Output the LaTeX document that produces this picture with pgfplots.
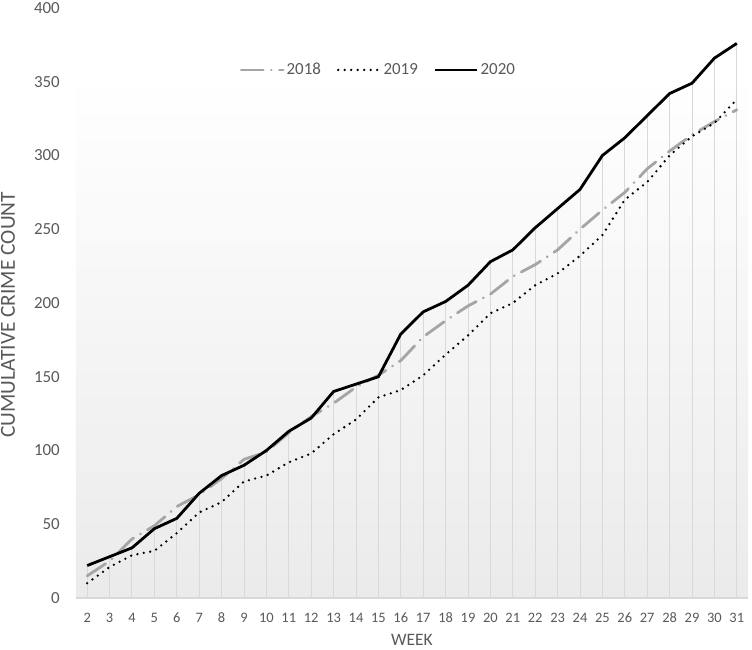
\documentclass[border=0pt]{standalone}
\usepackage{pgfplots}
\pgfplotsset{compat=1.18}
\usepackage{pgfplotstable}
\usepackage{fontspec}
\setmainfont{Carlito}
\definecolor{txt}{HTML}{595959}
\definecolor{gridc}{HTML}{D9D9D9}
\definecolor{c2018}{HTML}{A5A5A5}

\pgfplotstableread{
week y2018 y2019 y2020
2  15  10  22
3  25  21  28
4  40  29  34
5  49  32  47
6  62  44  54
7  70  58  71
8  81  65  83
9  94  79  90
10 99  83  100
11 112 92  113
12 123 98  122
13 132 111 140
14 143 121 145
15 151 136 150
16 161 141 179
17 177 151 194
18 188 165 201
19 198 178 212
20 206 193 228
21 218 200 236
22 226 212 251
23 236 220 264
24 250 232 277
25 263 246 300
26 275 270 312
27 291 282 327
28 303 300 342
29 314 313 349
30 323 322 366
31 331 338 376
}\crime

\begin{document}
\begin{tikzpicture}
\useasboundingbox (-76bp,-52bp) rectangle (676bp,598bp);
\begin{axis}[
  at={(0,0)}, anchor=south west,
  scale only axis, width=672bp, height=590bp,
  xmin=1.5, xmax=31.5, ymin=0, ymax=400,
  xtick={2,...,31}, ytick={0,50,...,400},
  axis line style={draw=none},
  major tick length=0pt,
  tick style={draw=none},
  /pgf/number format/assume math mode=true,
  xticklabel style={font=\fontsize{14.5}{15}\selectfont, text=txt, anchor=center, inner sep=0pt, yshift=-20bp},
  yticklabel style={font=\fontsize{17}{18}\selectfont, text=txt, anchor=east, inner sep=0pt, xshift=-16bp},
  xlabel={WEEK},
  ylabel={CUMULATIVE CRIME COUNT},
  xlabel style={font=\fontsize{17.5}{18}\selectfont, text=txt, at={(axis description cs:0.5,-0.0712)}, anchor=center},
  ylabel style={font=\fontsize{21.5}{22}\selectfont, text=txt, at={(axis description cs:-0.1012,0.48)}, anchor=center},
  legend style={at={(axis description cs:0.45,0.895)}, anchor=center,
    draw=none, fill=none, legend columns=3,
    font=\fontsize{17}{18}\selectfont, text=txt,
    /tikz/every even column/.append style={column sep=14bp}},
  legend image code/.code={\draw[#1] (0bp,0bp) -- (42bp,0bp);},
  clip=false,
]
\shade[top color=white, bottom color=black!8] (axis cs:1.5,0) rectangle (axis cs:31.5,354);
% drop lines down from the top series
\addplot[ycomb, draw=gridc, line width=1bp, no marks, forget plot] table[x=week, y=y2020] {\crime};
\draw[gridc, line width=1.2bp] (axis cs:1.5,0) -- (axis cs:31.5,0);

\addplot[c2018, line width=2.8bp, line cap=round, dash pattern=on 22bp off 8bp on 0.1bp off 8bp] table[x=week, y=y2018] {\crime};
\addlegendentry{2018}
\addplot[black, line width=2.6bp, line cap=round, dash pattern=on 0bp off 6.5bp] table[x=week, y=y2019] {\crime};
\addlegendentry{2019}
\addplot[black, line width=2.8bp] table[x=week, y=y2020] {\crime};
\addlegendentry{2020}
\end{axis}
\end{tikzpicture}
\end{document}
